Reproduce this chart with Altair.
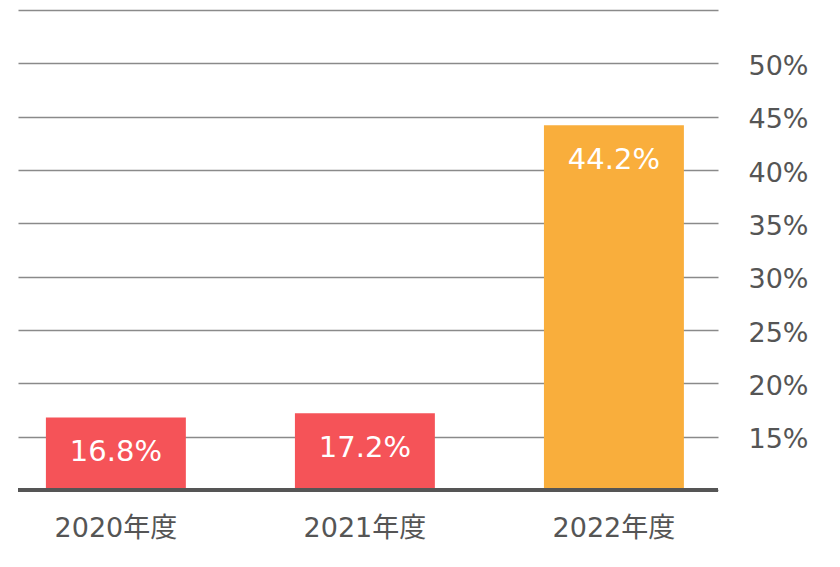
import altair as alt
import pandas as pd

years = ["2020年度", "2021年度", "2022年度"]
rates = [16.8, 17.2, 44.2]
labels = ["16.8%", "17.2%", "44.2%"]
colors = ["#F55358", "#F55358", "#F9AE3C"]

grid_values = [10, 15, 20, 25, 30, 35, 40, 45, 50, 55]

df = pd.DataFrame({"year": years, "rate": rates, "label": labels, "color": colors})

FONT = "DejaVu Sans, Noto Sans CJK JP"

x = alt.X("year:N", sort=years, title=None,
          scale=alt.Scale(paddingInner=0.438, paddingOuter=0.1245, align=0.45),
          axis=alt.Axis(labelAngle=0, ticks=False, domain=False, grid=False, labelPadding=25,
                        labelFontSize=27, labelFont=FONT, labelColor="#555555",
                        labelFontWeight="normal"))
y_scale = alt.Scale(domain=[10, 55], nice=False, zero=False)

bars = alt.Chart(df).mark_bar(clip=True).encode(
    x=x,
    y=alt.Y("rate:Q", scale=y_scale, title=None,
            axis=alt.Axis(orient="right", values=grid_values, grid=True,
                          gridColor="#8a8a8a", gridWidth=1.3, ticks=False, domain=False,
                          labelExpr="datum.value >= 15 && datum.value <= 50 ? datum.value + '%' : ''",
                          labelPadding=30, labelOffset=3, labelFontSize=27, labelFont=FONT,
                          labelColor="#555555", labelAlign="left", labelBaseline="middle")),
    y2=alt.datum(10),
    color=alt.Color("color:N", scale=None),
)

text = alt.Chart(df).mark_text(color="white", fontSize=29, font=FONT, baseline="middle",
                               align="center", dy=35).encode(
    x=alt.X("year:N", sort=years),
    y=alt.Y("rate:Q", scale=y_scale),
    text="label:N",
)

base = alt.Chart(pd.DataFrame({"v": [10]})).mark_rule(color="#555555", strokeWidth=4).encode(
    y=alt.Y("v:Q", scale=y_scale),
)

chart = alt.layer(bars, text, base).properties(
    width=700, height=480,
    autosize=alt.AutoSizeParams(type="none"),
    padding={"left": 18, "top": 10, "right": 122, "bottom": 77},
).configure(background="white").configure_view(strokeWidth=0, stroke="transparent")

chart.save("out.html", embed_options={"renderer": "svg", "actions": False})
